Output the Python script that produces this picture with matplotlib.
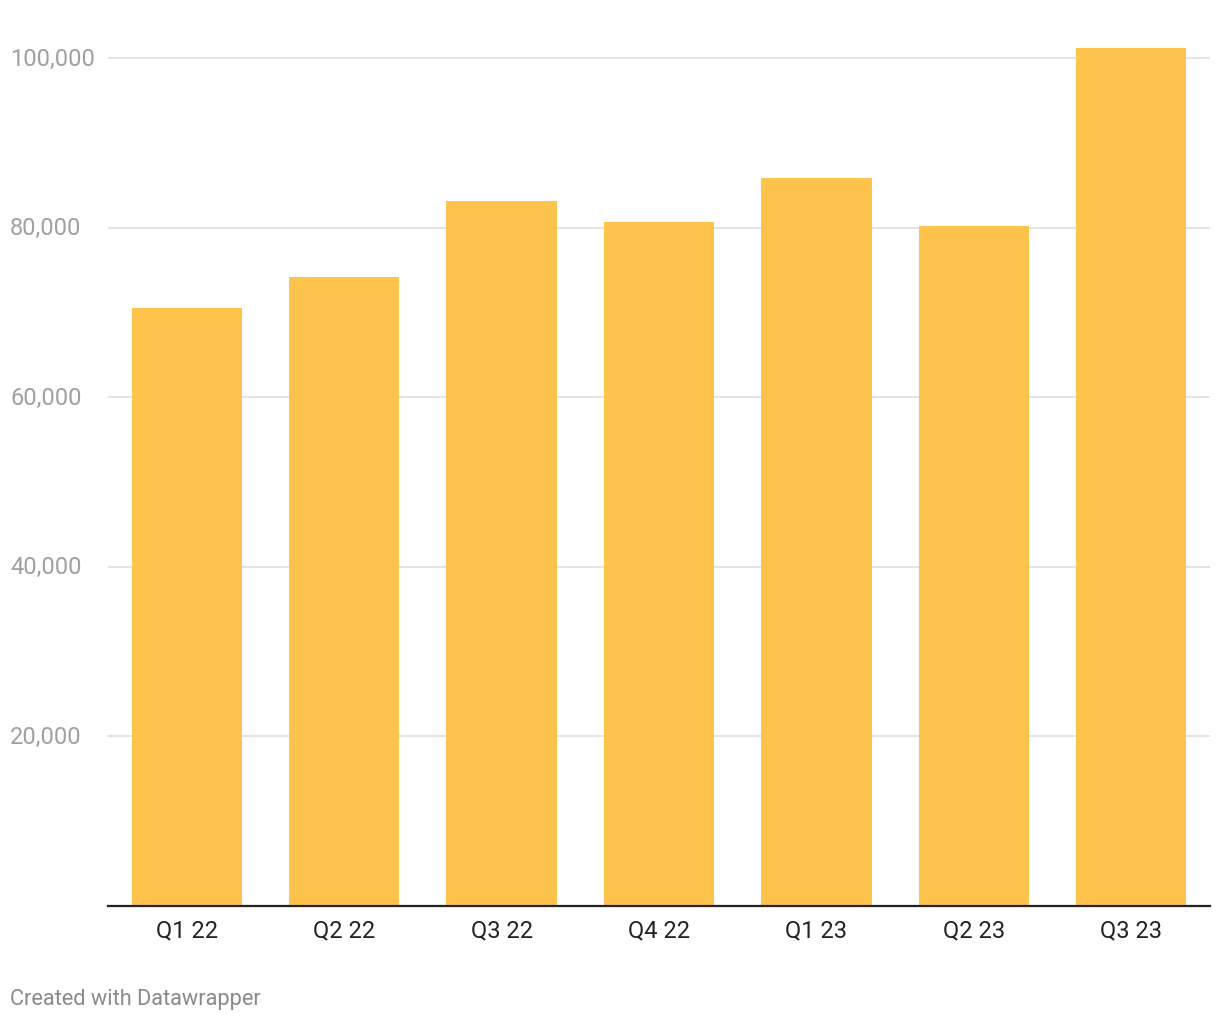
import matplotlib
matplotlib.use('Agg')
import matplotlib.pyplot as plt
from matplotlib.ticker import FuncFormatter

# quarterly values
quarters = ['Q1 22', 'Q2 22', 'Q3 22', 'Q4 22', 'Q1 23', 'Q2 23', 'Q3 23']
values = [70500, 74200, 83100, 80700, 85800, 80200, 101200]
yticks = [20000, 40000, 60000, 80000, 100000]

plt.rcParams['font.family'] = ['Roboto', 'DejaVu Sans']

fig = plt.figure(figsize=(12.2, 10.2), dpi=100)
ax = fig.add_axes([108 / 1220, 113 / 1020, 1102 / 1220, (905 - 45) / 1020])

ax.bar(range(len(quarters)), values, width=0.7, color='#FEC34D', zorder=2)

ax.set_xlim(-0.5, len(quarters) - 0.5)
ax.set_ylim(0, 100000 * 860 / 848)

ax.set_yticks(yticks)
ax.yaxis.set_major_formatter(FuncFormatter(lambda v, p: f'{int(v):,}'))
ax.grid(axis='y', color='#e2e2e2', linewidth=1.3, zorder=0)
# left-aligned labels starting ~10px from the figure edge
ax.tick_params(axis='y', length=0, pad=98 * 72 / 100, labelsize=17, labelcolor='#a0a0a0')
for lbl in ax.get_yticklabels():
    lbl.set_horizontalalignment('left')
    lbl.set_verticalalignment('center')

ax.set_xticks(range(len(quarters)))
ax.set_xticklabels(quarters)
ax.tick_params(axis='x', length=0, pad=9, labelsize=17, labelcolor='#222222')

for s in ['top', 'right', 'left']:
    ax.spines[s].set_visible(False)
ax.spines['bottom'].set_color('#222222')
ax.spines['bottom'].set_linewidth(1.6)
ax.spines['bottom'].set_zorder(3)

fig.text(10 / 1220, 1 - 1000 / 1020, 'Created with Datawrapper', fontsize=15.7,
         color='#8a8a8a', va='center', ha='left')

fig.savefig('out.png', dpi=100)
